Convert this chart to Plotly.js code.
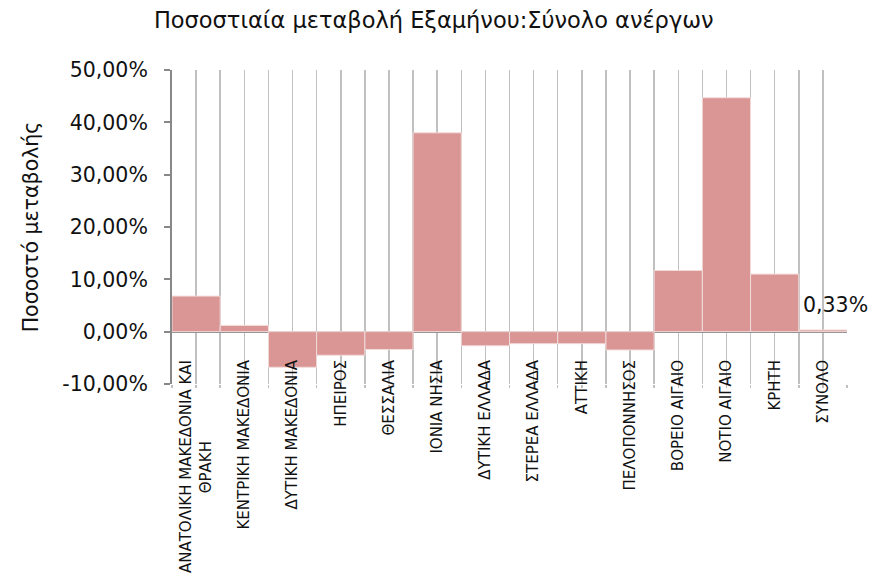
<!DOCTYPE html>
<html><head><meta charset="utf-8">
<script src="https://cdn.plot.ly/plotly-3.0.1.min.js"></script>
<style>body{margin:0;background:#fff}#c{width:871px;height:579px}</style>
</head><body><div id="c"></div>
<script>
const categories = ["ΑΝΑΤΟΛΙΚΗ ΜΑΚΕΔΟΝΙΑ ΚΑΙ<br>ΘΡΑΚΗ" + "\u00A0".repeat(17),"ΚΕΝΤΡΙΚΗ ΜΑΚΕΔΟΝΙΑ","ΔΥΤΙΚΗ ΜΑΚΕΔΟΝΙΑ","ΗΠΕΙΡΟΣ","ΘΕΣΣΑΛΙΑ","ΙΟΝΙΑ ΝΗΣΙΑ","ΔΥΤΙΚΗ ΕΛΛΑΔΑ","ΣΤΕΡΕΑ ΕΛΛΑΔΑ","ΑΤΤΙΚΗ","ΠΕΛΟΠΟΝΝΗΣΟΣ","ΒΟΡΕΙΟ ΑΙΓΑΙΟ","ΝΟΤΙΟ ΑΙΓΑΙΟ","ΚΡΗΤΗ","ΣΥΝΟΛΟ"];
const values = [0.068, 0.012, -0.068, -0.045, -0.034, 0.380, -0.027, -0.023, -0.023, -0.035, 0.117, 0.447, 0.110, 0.0033];
const yTicks = [-0.1, 0, 0.1, 0.2, 0.3, 0.4, 0.5];

const idx = categories.map((c, i) => i);
const bounds = categories.map((c, i) => i - 0.5).concat([categories.length - 0.5]);
const fmt = v => (v * 100).toFixed(2).replace('.', ',') + '%';
const last = values.length - 1;
const font = "'DejaVu Sans', sans-serif";

Plotly.newPlot('c', [{
  type: 'bar', x: idx, y: values, width: 1,
  marker: {color: '#D99694', line: {color: '#F2DCDB', width: 1}},
  hoverinfo: 'x+y'
}], {
  width: 871, height: 579,
  margin: {l: 172, r: 24, t: 70, b: 195},
  paper_bgcolor: '#fff', plot_bgcolor: '#fff',
  showlegend: false,
  font: {family: font, color: '#000'},
  title: {text: 'Ποσοστιαία μεταβολή Εξαμήνου:Σύνολο ανέργων', font: {size: 22.5, color: '#111'}, x: 0.498, xanchor: 'center', y: 0.965, yanchor: 'middle'},
  annotations: [{
    x: idx[last], y: values[last], text: fmt(values[last]),
    showarrow: false, xanchor: 'center', yanchor: 'bottom',
    xshift: 13, yshift: 11, font: {size: 20.5, color: '#111', family: font}
  }],
  xaxis: {
    range: [-0.5, categories.length - 0.5],
    tickmode: 'array', tickvals: idx, ticktext: categories,
    tickangle: -90, tickfont: {size: 15, color: '#111'},
    ticklabelstandoff: -34,
    showgrid: true, gridcolor: '#C0C0C0', gridwidth: 1.5,
    ticks: 'outside', ticklen: 3, tickcolor: '#C0C0C0', tickwidth: 1.5,
    minor: {tickmode: 'array', tickvals: bounds, showgrid: true, gridcolor: '#C0C0C0', gridwidth: 1.5, ticks: 'outside', ticklen: 3, tickcolor: '#C0C0C0', tickwidth: 1.5},
    showline: false, zeroline: false, fixedrange: true
  },
  yaxis: {
    range: [-0.1, 0.5], tickmode: 'array', tickvals: yTicks, ticktext: yTicks.map(fmt),
    tickfont: {size: 20.5, color: '#111'}, ticklabelstandoff: 12,
    showgrid: false, zeroline: true, zerolinecolor: '#888', zerolinewidth: 2,
    showline: true, linecolor: '#888', linewidth: 2,
    ticks: 'outside', ticklen: 6, tickcolor: '#888', tickwidth: 2,
    title: {text: '\u00A0\u00A0\u00A0\u00A0Ποσοστό μεταβολής', font: {size: 20.5, color: '#111'}, standoff: 18},
    fixedrange: true
  }
}, {displayModeBar: false, staticPlot: true});
</script></body></html>
